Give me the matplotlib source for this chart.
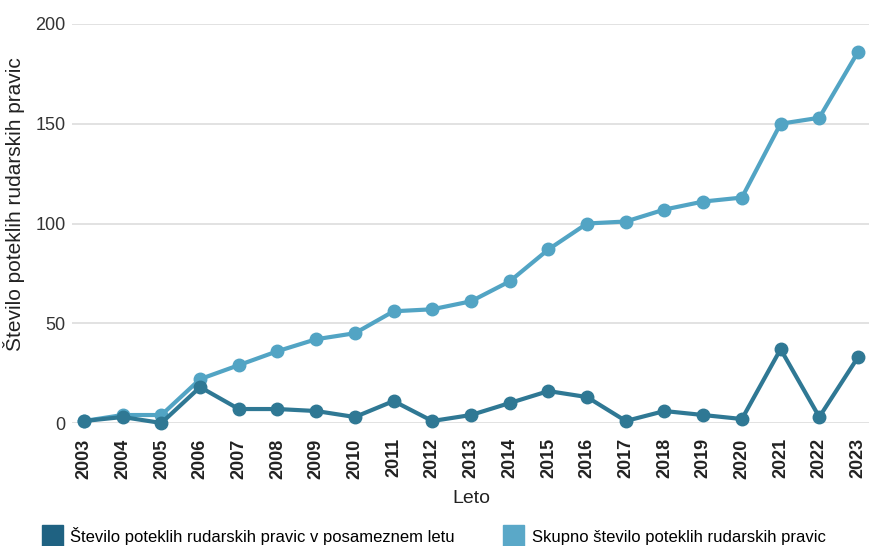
import matplotlib
matplotlib.use("Agg")
import matplotlib.pyplot as plt
from matplotlib.patches import Patch

plt.rcParams['font.family'] = ['Liberation Sans', 'DejaVu Sans']

leta = list(range(2003, 2024))
letno = [1, 3, 0, 18, 7, 7, 6, 3, 11, 1, 4, 10, 16, 13, 1, 6, 4, 2, 37, 3, 33]
skupno = [1, 4, 4, 22, 29, 36, 42, 45, 56, 57, 61, 71, 87, 100, 101, 107, 111, 113, 150, 153, 186]

c_letno = '#2f7894'
c_skupno = '#52a4c4'

fig = plt.figure(figsize=(8.7, 5.46), dpi=100)
ax = fig.add_axes([72 / 870, 1 - 423 / 546, 1 - 72 / 870, (423 - 24) / 546])

ax.plot(leta, skupno, color=c_skupno, lw=3, marker='o', ms=9, clip_on=False, zorder=3)
ax.plot(leta, letno, color=c_letno, lw=3, marker='o', ms=9, clip_on=False, zorder=4)

ax.set_ylim(0, 200)
ax.set_xlim(2003 - 12 / 38.7, 2023 + 12 / 38.7)
ax.set_yticks([0, 50, 100, 150, 200])
ax.set_xticks(leta)
ax.set_xticklabels([str(l) for l in leta], rotation=90, fontweight='bold', fontsize=13)
ax.tick_params(axis='y', labelsize=13, length=0, pad=4.5, colors='#333333')
ax.tick_params(axis='x', length=0, pad=11, colors='#222222')
ax.grid(axis='y', color='#dddddd', lw=1.2)
ax.set_axisbelow(True)
for s in ax.spines.values():
    s.set_visible(False)

ax.set_ylabel('Število poteklih rudarskih pravic', fontsize=15, color='#222222')
ax.yaxis.set_label_coords(-0.059, 0.549)
ax.set_xlabel('Leto', fontsize=14, color='#222222', labelpad=8)

handles = [Patch(color='#1f6282', label='Število poteklih rudarskih pravic v posameznem letu'),
           Patch(color='#5aa8c8', label='Skupno število poteklih rudarskih pravic')]
fig.legend(handles=handles, loc='lower left', bbox_to_anchor=(0.031, -0.03), ncol=2,
           frameon=False, fontsize=12, handlelength=1.26, handleheight=1.7,
           handletextpad=0.45, columnspacing=2.9)

fig.savefig('out.png', dpi=100)
